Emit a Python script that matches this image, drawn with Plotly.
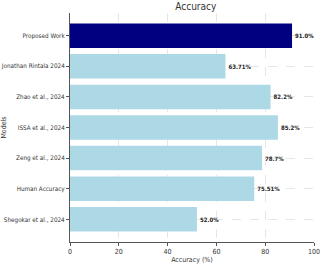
import plotly.graph_objects as go

models = ["Proposed Work", "Jonathan Rintala 2024", "Zhao et al., 2024", "ISSA et al., 2024",
          "Zeng et al., 2024", "Human Accuracy", "Shegokar et al., 2024"]
accuracy = [91.0, 63.71, 82.2, 85.2, 78.7, 75.51, 52.0]
labels = ["91.0%", "63.71%", "82.2%", "85.2%", "78.7%", "75.51%", "52.0%"]
colors = ["#000080"] + ["#add8e6"] * 6
x_ticks = [0, 20, 40, 60, 80, 100]

fig = go.Figure(go.Bar(
    x=accuracy, y=models, orientation="h", width=0.8,
    marker=dict(color=colors, line=dict(width=0)),
    text=labels, textposition="outside", cliponaxis=False,
    textfont=dict(family="DejaVu Sans Condensed, DejaVu Sans", size=6, color="#222"),
    texttemplate="<b>%{text}</b>",
))

fnt = "DejaVu Sans Condensed, DejaVu Sans, sans-serif"
fig.update_layout(
    width=321, height=266,
    margin=dict(l=70, r=7, t=13, b=24, autoexpand=False),
    paper_bgcolor="white", plot_bgcolor="white",
    showlegend=False,
    title=dict(text="Accuracy", x=0.61, xanchor="center", y=0.99, yanchor="top",
               font=dict(family=fnt, size=10, color="#333")),
    font=dict(family=fnt, size=6, color="#333"),
    xaxis=dict(range=[0, 100], tickvals=x_ticks, showgrid=True, gridcolor="#e6e6e6",
               griddash="dash", gridwidth=0.6, showline=True, linecolor="#555", linewidth=1,
               ticks="outside", ticklen=3, tickcolor="#555", zeroline=False,
               automargin=False,
               title=dict(text="Accuracy (%)", standoff=0, font=dict(size=7)),
               layer="above traces", tickfont=dict(size=7)),
    yaxis=dict(categoryorder="array", categoryarray=models, range=[6.74, -0.74],
               showgrid=True, gridcolor="#e6e6e6", griddash="dash", gridwidth=0.6,
               showline=True, linecolor="#555", linewidth=1, ticks="outside",
               ticklen=3, tickcolor="#555", zeroline=False, automargin=False,
               title=dict(text="Models", standoff=0, font=dict(size=7)),
               layer="above traces", tickfont=dict(size=6.3)),
)

fig.write_html("out.html", config={"displayModeBar": False},
               post_script="document.body.style.margin='0';")
